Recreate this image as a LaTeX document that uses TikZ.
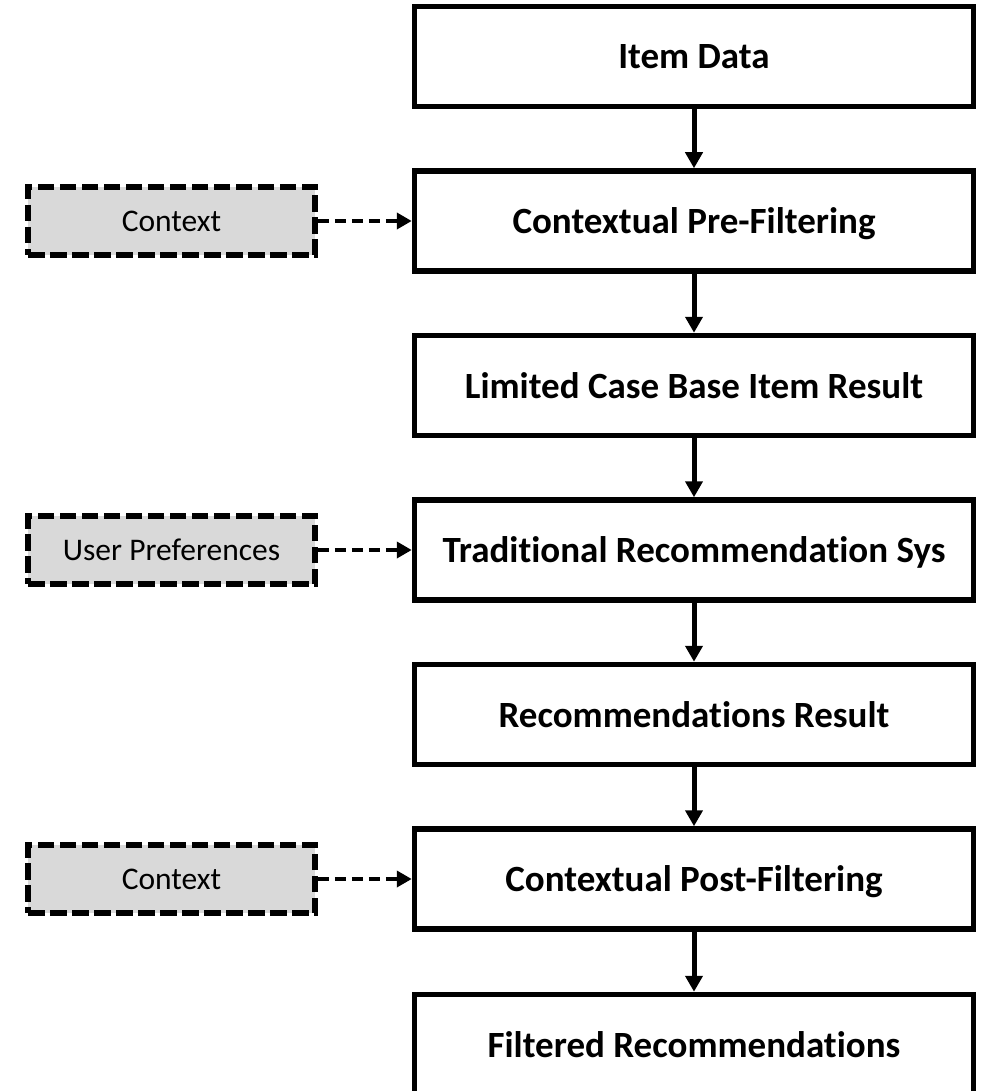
\documentclass[tikz,border=0pt]{standalone}
\usepackage{fontspec}
\setmainfont{Carlito}[Ligatures=NoCommon]
\usetikzlibrary{arrows.meta}

\definecolor{inputgrey}{HTML}{D9D9D9}
\tikzset{
  stage/.style={draw=black, fill=white, line width=5.5pt, minimum width=559pt,
    minimum height=100pt, inner sep=0pt, text depth=0pt,
    font=\fontsize{37}{43}\selectfont\bfseries},
  inputbox/.style={draw=black, fill=inputgrey, line width=5.5pt,
    dash pattern=on 16.5pt off 5.5pt, minimum width=287pt,
    minimum height=68pt, inner sep=0pt,
    font=\fontsize{31.5}{37}\selectfont},
  flow/.style={line width=5pt, -{Triangle[length=16pt,width=17pt]}},
  feed/.style={line width=4pt, dash pattern=on 11pt off 6pt,
    -{Triangle[length=15pt,width=16pt]}},
}

\begin{document}
\begin{tikzpicture}[x=1pt,y=-1pt]
  \useasboundingbox (0,0) rectangle (984,1091);

  % main pipeline
  \node[stage] (item)   at (694,56.5)   {Item Data};
  \node[stage] (pre)    at (694,221)    {Contextual Pre-Filtering};
  \node[stage] (cbase)  at (694,385.5)  {Limited Case Base Item Result};
  \node[stage] (trad)   at (694,550)    {Traditional Recommendation Sys};
  \node[stage] (recres) at (694,714.5)  {Recommendations Result};
  \node[stage] (post)   at (694,879)    {Contextual Post-Filtering};
  \node[stage] (final)  at (694,1044.5) {Filtered Recommendations};

  % side inputs
  \node[inputbox] (ctxa)  at (171.5,221) {Context};
  \node[inputbox] (prefs) at (171.5,550) {User Preferences};
  \node[inputbox] (ctxb)  at (171.5,879) {Context};

  % solid flow arrows
  \draw[flow] (item)   -- (pre);
  \draw[flow] (pre)    -- (cbase);
  \draw[flow] (cbase)  -- (trad);
  \draw[flow] (trad)   -- (recres);
  \draw[flow] (recres) -- (post);
  \draw[flow] (post)   -- (final);

  % dashed inputs
  \draw[feed] (ctxa)  -- (pre);
  \draw[feed] (prefs) -- (trad);
  \draw[feed] (ctxb)  -- (post);
\end{tikzpicture}
\end{document}
